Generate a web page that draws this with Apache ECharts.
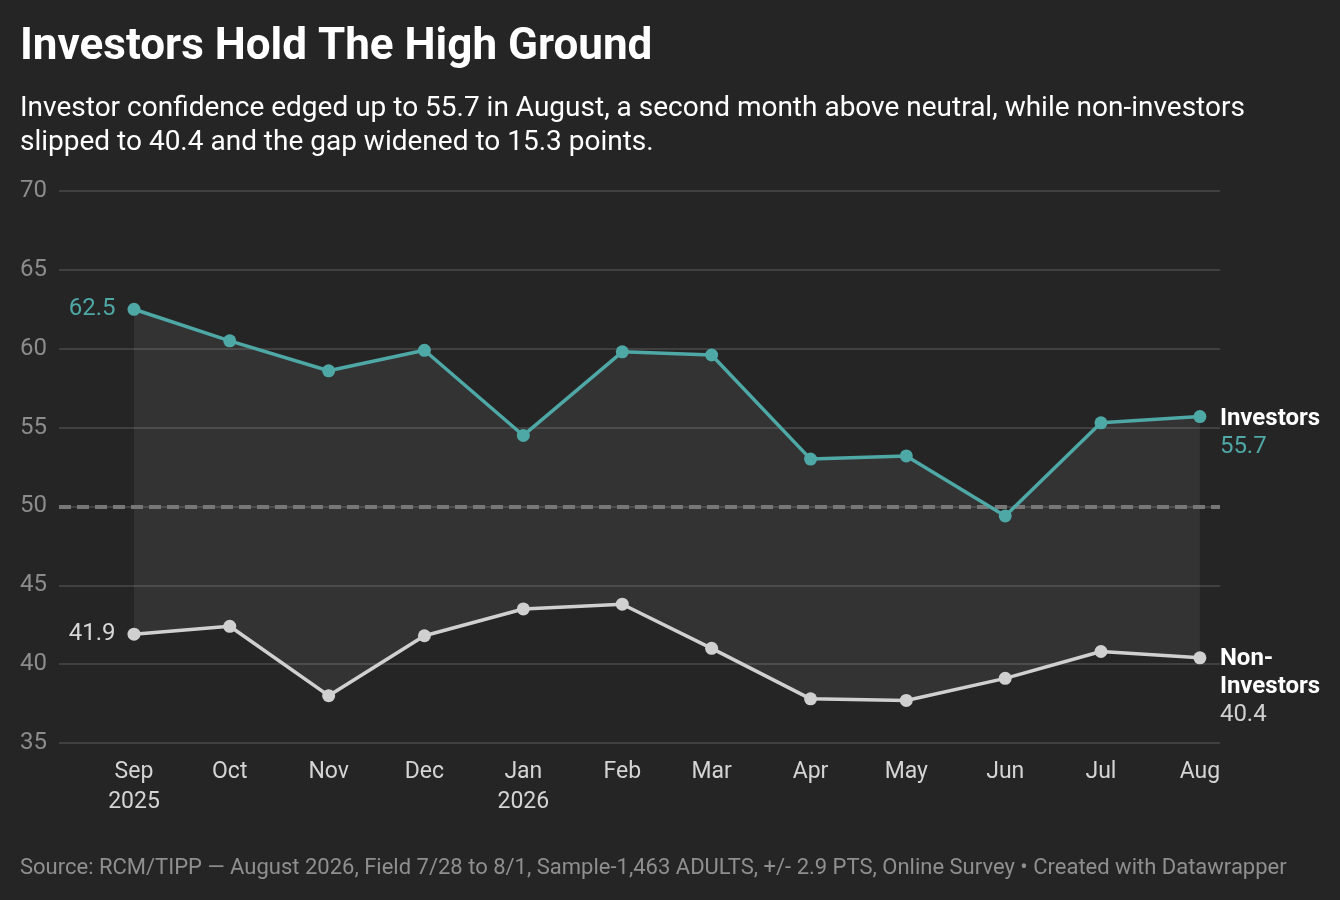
<!DOCTYPE html>
<html>
<head>
<meta charset="utf-8">
<script src="https://cdn.jsdelivr.net/npm/echarts@6/dist/echarts.min.js"></script>
<style>
  html, body { margin: 0; padding: 0; background: #252525; }
  #chart { width: 1340px; height: 900px; }
</style>
</head>
<body>
<div id="chart"></div>
<script>
// month starts, Sep 2025 .. Aug 2026
const months = [
  [2025, 8], [2025, 9], [2025, 10], [2025, 11], [2026, 0], [2026, 1],
  [2026, 2], [2026, 3], [2026, 4], [2026, 5], [2026, 6], [2026, 7]
];
const monthLabels = ['Sep\n2025', 'Oct', 'Nov', 'Dec', 'Jan\n2026', 'Feb', 'Mar', 'Apr', 'May', 'Jun', 'Jul', 'Aug'];
const investors = [62.5, 60.5, 58.6, 59.9, 54.5, 59.8, 59.6, 53.0, 53.2, 49.4, 55.3, 55.7];
const nonInvestors = [41.9, 42.4, 38.0, 41.8, 43.5, 43.8, 41.0, 37.8, 37.7, 39.1, 40.8, 40.4];
const yTicks = [35, 40, 45, 50, 55, 60, 65, 70];
const neutral = 50;

const DAY = 86400000;
const times = months.map(m => Date.UTC(m[0], m[1], 1));
const labelByTime = {};
times.forEach((t, i) => labelByTime[t] = monthLabels[i]);

const teal = '#4ea8a6';
const grey = '#d0d0d0';
const font = 'Roboto, "Noto Sans", sans-serif';

const chart = echarts.init(document.getElementById('chart'), null, { renderer: 'canvas' });

const withStartLabel = (arr, color) => arr.map((v, i) => {
  const d = { value: [times[i], v] };
  if (i === 0) d.label = { show: true, position: 'left', distance: 12, color, fontSize: 24, fontFamily: font, formatter: String(v) };
  return d;
});

// one polygon spanning the gap between the two lines
const bandData = times.map((t, i) => [t, investors[i], nonInvestors[i]]);
function renderBand(params, api) {
  if (params.dataIndex !== 0) return;
  const top = bandData.map(d => api.coord([d[0], d[1]]));
  const bottom = bandData.map(d => api.coord([d[0], d[2]])).reverse();
  return {
    type: 'polygon',
    shape: { points: top.concat(bottom) },
    style: { fill: 'rgba(255,255,255,0.065)' },
    silent: true
  };
}

chart.setOption({
  backgroundColor: '#252525',
  animation: false,
  textStyle: { fontFamily: font },
  title: [
    { text: 'Investors Hold The High Ground', left: 15, top: 21,
      textStyle: { color: '#ffffff', fontSize: 44, fontWeight: 'bold', fontFamily: font } },
    { text: 'Investor confidence edged up to 55.7 in August, a second month above neutral, while non-investors\nslipped to 40.4 and the gap widened to 15.3 points.',
      left: 15, top: 87,
      textStyle: { color: '#ffffff', fontSize: 28, fontWeight: 'normal', lineHeight: 34, fontFamily: font } },
    { text: 'Source: RCM/TIPP — August 2026, Field 7/28 to 8/1, Sample-1,463 ADULTS, +/- 2.9 PTS, Online Survey • Created with Datawrapper',
      left: 15, top: 852,
      textStyle: { color: '#8f8f8f', fontSize: 22, fontWeight: 'normal', fontFamily: font } }
  ],
  grid: { left: 59, right: 120, top: 191, bottom: 157 },
  xAxis: {
    type: 'value',
    min: times[0] - 23.5 * DAY,
    max: times[times.length - 1] + 6.3 * DAY,
    splitLine: { show: false },
    axisLine: { show: false },
    axisTick: { show: false },
    axisLabel: {
      customValues: times,
      color: '#d4d4d4', fontSize: 23, lineHeight: 30, margin: 14, fontFamily: font,
      formatter: v => labelByTime[v] || ''
    }
  },
  yAxis: {
    type: 'value',
    min: yTicks[0], max: yTicks[yTicks.length - 1], interval: 5,
    axisLine: { show: false },
    axisTick: { show: false },
    axisLabel: { color: '#8c8c8c', fontSize: 24, margin: 12, fontFamily: font },
    splitLine: { lineStyle: { color: '#4a4a4a', width: 1.5 } }
  },
  series: [
    { type: 'custom', data: bandData, renderItem: renderBand, silent: true, z: 1,
      encode: { x: 0, y: [1, 2] } },
    { type: 'line', data: [], silent: true, z: 2,
      markLine: {
        silent: true, symbol: 'none', label: { show: false },
        lineStyle: { color: '#777777', type: [12, 6], width: 4 },
        data: [{ yAxis: neutral }]
      }
    },
    { name: 'Investors', type: 'line', data: withStartLabel(investors, teal),
      symbol: 'circle', symbolSize: 13,
      lineStyle: { color: teal, width: 3.5 }, itemStyle: { color: teal }, z: 5,
      endLabel: {
        show: true, distance: 20, offset: [0, 16], fontFamily: font,
        formatter: p => '{n|Investors}\n{v|' + p.value[1] + '}',
        rich: {
          n: { color: '#ffffff', fontSize: 24, fontWeight: 'bold', lineHeight: 28, fontFamily: font },
          v: { color: teal, fontSize: 24, lineHeight: 28, fontFamily: font }
        }
      }
    },
    { name: 'Non-Investors', type: 'line', data: withStartLabel(nonInvestors, '#d8d8d8'),
      symbol: 'circle', symbolSize: 13,
      lineStyle: { color: grey, width: 3.5 }, itemStyle: { color: grey }, z: 5,
      endLabel: {
        show: true, distance: 20, offset: [0, 29], fontFamily: font,
        formatter: p => '{n|Non-}\n{n|Investors}\n{v|' + p.value[1] + '}',
        rich: {
          n: { color: '#ffffff', fontSize: 24, fontWeight: 'bold', lineHeight: 28, fontFamily: font },
          v: { color: '#d0d0d0', fontSize: 24, lineHeight: 28, fontFamily: font }
        }
      }
    }
  ]
});
</script>
</body>
</html>
